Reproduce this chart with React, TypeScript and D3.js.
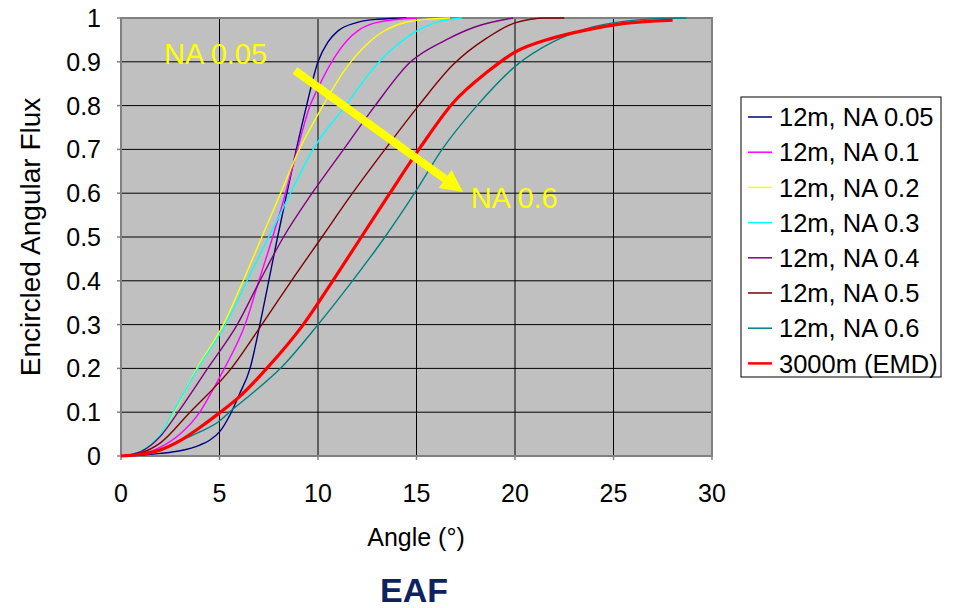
import * as React from 'react';
import * as d3 from 'd3';

// [angle (deg), encircled angular flux]
const na005 = [[0, 0], [1, 0.002], [2, 0.006], [3, 0.012], [4, 0.025], [4.5, 0.036], [5, 0.055], [5.6, 0.1], [6, 0.14], [6.55, 0.2], [7.05, 0.3], [7.5, 0.4], [7.95, 0.5], [8.42, 0.6], [8.9, 0.7], [9.42, 0.8], [10, 0.9], [10.5, 0.945], [11, 0.97], [12, 0.99], [13, 0.997], [14.5, 1]];
const na01 = [[0, 0], [1, 0.004], [2, 0.02], [3, 0.05], [4, 0.1], [4.65, 0.15], [5.25, 0.2], [6.3, 0.3], [7.0, 0.4], [7.7, 0.5], [8.35, 0.6], [8.95, 0.7], [9.6, 0.8], [10, 0.84], [10.7, 0.9], [11.5, 0.95], [12, 0.97], [13, 0.99], [15, 1]];
const na02 = [[0, 0], [1, 0.012], [2, 0.05], [2.7, 0.1], [3.85, 0.2], [5.2, 0.3], [6.2, 0.4], [7.15, 0.5], [8.1, 0.6], [9.05, 0.7], [10, 0.78], [11.5, 0.89], [13, 0.96], [15, 0.995], [16.7, 1]];
const na03 = [[0, 0], [1, 0.012], [2, 0.05], [2.65, 0.1], [3.9, 0.2], [5.3, 0.3], [6.4, 0.4], [7.5, 0.5], [8.6, 0.6], [9.75, 0.7], [11.4, 0.8], [12.9, 0.89], [15, 0.97], [16, 0.99], [17.3, 1]];
const na04 = [[0, 0], [1, 0.01], [2, 0.045], [2.9, 0.1], [4.4, 0.2], [5.9, 0.3], [7.05, 0.4], [8.25, 0.5], [9.7, 0.6], [11.3, 0.7], [12.9, 0.8], [14.7, 0.9], [16.5, 0.95], [18, 0.98], [19.9, 1]];
const na05 = [[0, 0], [1, 0.007], [2, 0.03], [3.5, 0.1], [5.6, 0.2], [7.15, 0.3], [8.65, 0.4], [10.2, 0.5], [11.75, 0.6], [13.4, 0.7], [15.2, 0.805], [16.85, 0.893], [18.6, 0.955], [20, 0.989], [21.6, 1], [22.5, 1]];
const na06 = [[0, 0], [1, 0.004], [2, 0.015], [3, 0.035], [4, 0.055], [5, 0.08], [5.5, 0.1], [6.5, 0.137], [8.2, 0.205], [10, 0.3], [11.75, 0.4], [13.4, 0.5], [14.9, 0.6], [16.3, 0.7], [18.07, 0.8], [20.1, 0.893], [21.9, 0.945], [24, 0.98], [27, 0.998], [28.7, 1]];
const emd = [[0, 0], [1, 0.004], [2, 0.014], [3, 0.035], [4, 0.065], [4.9, 0.095], [6, 0.135], [7.4, 0.2], [9.25, 0.3], [10.75, 0.4], [12.2, 0.5], [13.65, 0.6], [15.2, 0.705], [16.85, 0.806], [18.6, 0.877], [20, 0.922], [21.9, 0.954], [23.65, 0.973], [25.3, 0.986], [28, 0.995]];

const seriesNames = ['12m, NA 0.05', '12m, NA 0.1', '12m, NA 0.2', '12m, NA 0.3', '12m, NA 0.4', '12m, NA 0.5', '12m, NA 0.6', '3000m (EMD)'];
const seriesData = [na005, na01, na02, na03, na04, na05, na06, emd];
const seriesColors = ['#000080', '#ff00ff', '#ffff00', '#00ffff', '#800080', '#800000', '#008080', '#ff0000'];

const xTicks = [0, 5, 10, 15, 20, 25, 30];
const yTicks = [0, 0.1, 0.2, 0.3, 0.4, 0.5, 0.6, 0.7, 0.8, 0.9, 1];

// arrow annotation, in data units
const arrowFrom = [8.83, 0.88];
const arrowTo = [17.36, 0.603];

const font = 'Arial, "Liberation Sans", sans-serif';

export default function App() {
  const width = 953, height = 608;
  const x = d3.scaleLinear().domain([0, 30]).range([121, 712]);
  const y = d3.scaleLinear().domain([0, 1]).range([456, 18]);

  const line = d3
    .line<number[]>()
    .x(d => x(d[0]))
    .y(d => y(d[1]))
    .curve(d3.curveMonotoneX);

  // arrow geometry
  const ax0 = x(arrowFrom[0]), ay0 = y(arrowFrom[1]);
  const ax1 = x(arrowTo[0]), ay1 = y(arrowTo[1]);
  const ang = Math.atan2(ay1 - ay0, ax1 - ax0);
  const headLen = 22, headHalf = 11;
  const bx = ax1 - headLen * Math.cos(ang), by = ay1 - headLen * Math.sin(ang);
  const head = [
    [ax1, ay1],
    [bx + headHalf * Math.sin(ang), by - headHalf * Math.cos(ang)],
    [bx - headHalf * Math.sin(ang), by + headHalf * Math.cos(ang)],
  ];

  const legendX = 741, legendY = 97, legendRow = 35.2;

  return (
    <svg width={width} height={height} style={{ position: 'absolute', left: 0, top: 0, background: '#fff' }} fontFamily={font}>
      <rect x={x(0)} y={y(1)} width={x(30) - x(0)} height={y(0) - y(1)} fill="#c0c0c0" />

      {/* grid */}
      {xTicks.slice(1, -1).map(t => (
        <line key={'gx' + t} x1={x(t)} x2={x(t)} y1={y(0)} y2={y(1)} stroke="#000" strokeWidth={1} />
      ))}
      {yTicks.slice(1, -1).map(t => (
        <line key={'gy' + t} x1={x(0)} x2={x(30)} y1={y(t)} y2={y(t)} stroke="#000" strokeWidth={1} />
      ))}
      <rect x={x(0)} y={y(1)} width={x(30) - x(0)} height={y(0) - y(1)} fill="none" stroke="#808080" strokeWidth={2} />

      {/* ticks */}
      {yTicks.map(t => (
        <g key={'ty' + t}>
          <line x1={x(0) - 4} x2={x(0)} y1={y(t)} y2={y(t)} stroke="#808080" strokeWidth={1.5} />
          <text x={101} y={y(t)} dy="0.36em" textAnchor="end" fontSize={25}>{t}</text>
        </g>
      ))}
      {xTicks.map(t => (
        <g key={'tx' + t}>
          <line x1={x(t)} x2={x(t)} y1={y(0)} y2={y(0) + 4} stroke="#808080" strokeWidth={1.5} />
          <text x={x(t)} y={493} dy="0.36em" textAnchor="middle" fontSize={25}>{t}</text>
        </g>
      ))}

      {/* series */}
      {seriesData.map((d, i) => (
        <path key={'s' + i} d={line(d) || ''} fill="none" stroke={seriesColors[i]} strokeWidth={i === 7 ? 3.2 : 1.4} />
      ))}

      {/* annotations */}
      <line x1={ax0} y1={ay0} x2={bx} y2={by} stroke="#ffff00" strokeWidth={8} />
      <polygon points={head.map(p => p.join(',')).join(' ')} fill="#ffff00" />
      <text x={x(2.18)} y={y(0.895)} fontSize={29} fill="#ffff00">NA 0.05</text>
      <text x={x(17.75)} y={y(0.566)} fontSize={29} fill="#ffff00">NA 0.6</text>

      {/* axis titles */}
      <text x={416} y={537} dy="0.36em" textAnchor="middle" fontSize={25}>Angle (°)</text>
      <text transform={`translate(30,${(y(0) + y(1)) / 2}) rotate(-90)`} dy="0.36em" textAnchor="middle" fontSize={28}>Encircled Angular Flux</text>
      <text x={414} y={590} dy="0.36em" textAnchor="middle" fontSize={34} fontWeight="bold" fill="#0d2260">EAF</text>

      {/* legend */}
      <rect x={legendX} y={legendY} width={200} height={280} fill="#fff" stroke="#000" strokeWidth={1} />
      {seriesNames.map((n, i) => {
        const cy = legendY + 20 + i * legendRow;
        return (
          <g key={'l' + i}>
            <line x1={748} x2={772} y1={cy} y2={cy} stroke={seriesColors[i]} strokeWidth={i === 7 ? 2.5 : 1.5} />
            <text x={779} y={cy} dy="0.36em" fontSize={25.5}>{n}</text>
          </g>
        );
      })}
    </svg>
  );
}
